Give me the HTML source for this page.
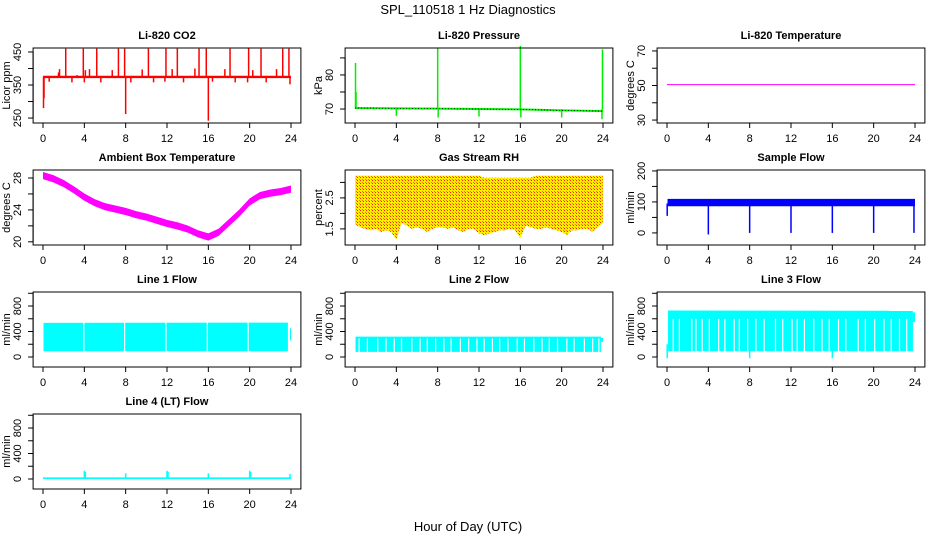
<!DOCTYPE html>
<html><head><meta charset="utf-8"><style>
body{margin:0;background:#fff;}
svg{display:block;font-family:"Liberation Sans",Arial,sans-serif;}
</style></head><body>
<svg id="chart" width="936" height="540" viewBox="0 0 936 540">
<rect width="936" height="540" fill="#fff"/>
<defs>
<pattern id="rhpat" width="3" height="3" patternUnits="userSpaceOnUse">
<rect width="3" height="3" fill="#ffee00"/><rect width="1" height="1" fill="#ff2000"/><rect x="2" y="2" width="1" height="1" fill="#ff7000"/>
</pattern>
</defs>
<text x="468" y="14" text-anchor="middle" font-size="13">SPL_110518  1 Hz Diagnostics</text>
<text x="468" y="531" text-anchor="middle" font-size="13">Hour of Day (UTC)</text>
<g id="panels"></g>
</svg>
<script>
// ---- data ----
const xTicks = [0,4,8,12,16,20,24];
const co2BandHours = [0,24];
const co2BandLow = [371,371];
const co2BandHigh = [378,378];
const co2SpikeHours = [0.05,0.1,0.6,1.5,1.6,2.2,2.8,3.3,3.9,4.0,4.1,4.5,5.2,5.6,6.7,7.3,7.9,8.0,8.5,9.6,10.2,10.7,11.8,11.9,12.5,13.0,13.6,14.7,15.1,15.8,16.0,16.4,17.6,18.1,18.6,19.8,19.9,20.3,21.1,21.6,22.6,23.2,23.8,23.9];
const co2SpikeValues = [280,310,360,388,398,460,358,380,460,358,395,398,460,358,395,460,460,262,358,397,460,358,360,460,398,460,358,400,460,460,242,360,398,460,358,358,462,395,460,358,398,460,460,352];
const presHours = [0,4,8,12,16,20,24];
const presBase = [70.3,70.2,70.1,70.0,69.9,69.6,69.4];
const presSpikeHours = [0.05,0.1,4.0,8.0,8.05,12.0,16.0,16.05,20.0,23.9,23.95];
const presSpikeValues = [83.5,75,68,88,67.5,67.8,88.5,67.5,67.5,67,87.5];
const tempHours = [0,24];
const tempValues = [50.5,50.5];
const ambHours = [0,1,2,3,4,5,6,7,8,9,10,11,12,13,14,15,16,17,18,19,20,21,22,23,24];
const ambValues = [28.3,27.9,27.3,26.5,25.6,24.9,24.4,24.1,23.8,23.4,23.1,22.7,22.3,22.0,21.6,21.0,20.6,21.2,22.4,23.6,25.0,25.8,26.1,26.3,26.6];
const rhHours = [0,0.5,1,1.5,2,2.5,3,3.5,4,4.5,5,5.5,6,6.5,7,7.5,8,8.5,9,9.5,10,10.5,11,11.5,12,12.5,13,13.5,14,14.5,15,15.5,16,16.5,17,17.5,18,18.5,19,19.5,20,20.5,21,21.5,22,22.5,23,23.5,24];
const rhLow = [1.65,1.55,1.5,1.45,1.5,1.4,1.45,1.4,1.15,1.7,1.6,1.5,1.55,1.5,1.4,1.5,1.55,1.55,1.5,1.55,1.45,1.4,1.5,1.5,1.35,1.3,1.35,1.4,1.45,1.45,1.5,1.45,1.2,1.6,1.55,1.5,1.5,1.55,1.5,1.45,1.4,1.3,1.45,1.45,1.5,1.5,1.4,1.55,1.7];
const rhUpperHours = [0,12,12.5,17,17.5,24];
const rhUpper = [3.22,3.22,3.15,3.15,3.22,3.22];
const sfBandHours = [0.05,24];
const sfLow = [86,86];
const sfHigh = [110,110];
const sfDipHours = [0.02,4,8,12,16,20,23.9];
const sfDipValues = [55,-5,0,0,0,0,0];
const l1Hours = [0.05,23.7];
const l1Low = [90,90];
const l1High = [535,540];
const l1Gaps = [3.95,7.9,11.9,15.9,19.85];
const l2Hours = [0.05,23.8];
const l2Low = [80,80];
const l2High = [320,320];
const l2Gaps = [0.4,1.2,2.2,3.0,3.8,4.5,5.5,6.3,7.0,7.8,8.6,9.3,10.2,11.0,11.8,12.5,13.3,14.0,14.8,15.7,16.4,17.3,18.1,18.8,19.6,20.5,21.2,22.2,23.0,23.6];
const l3Hours = [0.1,23.8];
const l3Low = [90,90];
const l3High = [730,725];
const l3Gaps = [0.6,1.2,2.4,2.8,3.4,4.1,5.0,5.6,6.5,7.0,7.8,8.6,9.4,10.5,11.2,12.1,12.6,13.3,14.2,15.0,15.7,16.6,17.3,18.5,19.2,20.1,21.0,21.7,22.5,23.2];
const l3DipHours = [0.02,8.0,16.0];
const l3DipValues = [-20,-20,-20];
const l4Hours = [0,24];
const l4Low = [0,0];
const l4High = [25,25];
const l4SpikeHours = [4,4.1,8,12,12.1,16,20,20.1,23.9];
const l4SpikeValues = [130,110,90,130,110,90,130,110,80];

// ---- helpers ----
const NS = "http://www.w3.org/2000/svg";
const root = document.getElementById('panels');
function mk(tag, attrs, parent){ const e=document.createElementNS(NS,tag); for(const k in attrs) e.setAttribute(k,attrs[k]); parent.appendChild(e); return e; }

function panel(col,row,title,ylab,ymin,ymax,yTicks,yLabels,name){
  const x0 = 43 + 312*col, w = 248;
  const left = x0 - 9.9, right = x0 + w + 9.9;
  const top = 48 + 122*row, bottom = top + 75;
  const g = mk('g',{},root);
  
  
  const sx = h => x0 + h*w/24;
  const sy = v => bottom - (v - ymin)/(ymax - ymin)*(bottom - top);
  const t = mk('text',{x:(left+right)/2,y:top-9,'text-anchor':'middle','font-size':11,'font-weight':'bold'},g);
  t.textContent = title;
  
  
  const plot = mk('g',{},g);
  
  
  const box = mk('rect',{x:left,y:top,width:right-left,height:bottom-top,fill:'none',stroke:'#000','stroke-width':1},g);
  
  
  const xa = mk('g',{},g);
  
  
  mk('line',{x1:sx(0),x2:sx(24),y1:bottom,y2:bottom,stroke:'#000'},xa);
  xTicks.forEach(h=>{
    mk('line',{x1:sx(h),x2:sx(h),y1:bottom,y2:bottom+5,stroke:'#000'},xa);
    const l = mk('text',{x:sx(h),y:bottom+19,'text-anchor':'middle','font-size':11},xa);
    l.textContent = h;
    
    
  });
  const ya = mk('g',{},g);
  
  
  mk('line',{x1:left,x2:left,y1:sy(yTicks[0]),y2:sy(yTicks[yTicks.length-1]),stroke:'#000'},ya);
  yTicks.forEach(v=>{
    mk('line',{x1:left-5,x2:left,y1:sy(v),y2:sy(v),stroke:'#000'},ya);
    if(yLabels.indexOf(v)>=0){
      const l = mk('text',{x:0,y:0,'text-anchor':'middle','font-size':11,transform:`translate(${left-12},${sy(v)}) rotate(-90)`},ya);
      l.textContent = v;
      
      
    }
  });
  const yl = mk('text',{x:0,y:0,'text-anchor':'middle','font-size':11,transform:`translate(${left-23},${(top+bottom)/2}) rotate(-90)`},g);
  yl.textContent = ylab;
  
  
  return {plot,sx,sy};
}
function band(p,hours,low,high,fill,name){
  let pts=[]; hours.forEach((h,i)=>pts.push(p.sx(h)+','+p.sy(high[i])));
  for(let i=hours.length-1;i>=0;i--) pts.push(p.sx(hours[i])+','+p.sy(low[i]));
  const e = mk('polygon',{points:pts.join(' '),fill:fill},p.plot);
  
  
  return e;
}
function spikes(p,hours,vals,base,color,wd,name){
  hours.forEach((h,i)=>{
    const e = mk('line',{x1:p.sx(h),x2:p.sx(h),y1:p.sy(base),y2:p.sy(vals[i]),stroke:color,'stroke-width':wd},p.plot);
    
    
  });
}
function gaps(p,hours,lo,hi,name){
  hours.forEach(h=>{
    const e = mk('line',{x1:p.sx(h),x2:p.sx(h),y1:p.sy(lo),y2:p.sy(hi),stroke:'#fff','stroke-width':1.2},p.plot);
    
    
  });
}
function line(p,hours,vals,color,wd,name,dash){
  const pts = hours.map((h,i)=>p.sx(h)+','+p.sy(vals[i])).join(' ');
  const e = mk('polyline',{points:pts,fill:'none',stroke:color,'stroke-width':wd},p.plot);
  if(dash) e.setAttribute('stroke-dasharray',dash);
  
  
}

// CO2
let p = panel(0,0,'Li-820 CO2','Licor ppm',235,462,[250,300,350,400,450],[250,350,450],'co2');
band(p,co2BandHours,co2BandLow,co2BandHigh,'#ff0000','co2-band');
spikes(p,co2SpikeHours,co2SpikeValues,375,'#ff0000',1.5,'co2-spike');
// Pressure
p = panel(1,0,'Li-820 Pressure','kPa',65.9,87.9,[70,75,80,85],[70,80],'pressure');
line(p,presHours,presBase,'#00ee00',2,'pressure-line');
spikes(p,presSpikeHours,presSpikeValues,70,'#00ee00',1.5,'pressure-spike');
line(p,presHours,presBase,'#000',0.7,'pressure-dots','1 2');
// Temperature
p = panel(2,0,'Li-820 Temperature','degrees C',28.3,71.7,[30,40,50,60,70],[30,50,70],'li820-temp');
line(p,tempHours,tempValues,'#ff00ff',1,'li820-temp-line');
// Ambient
p = panel(0,1,'Ambient Box Temperature','degrees C',19.6,29,[20,22,24,26,28],[20,24,28],'ambient-temp');
band(p,ambHours,ambValues.map(v=>v-0.45),ambValues.map(v=>v+0.45),'#ff00ff','ambient-temp-band');
// RH
p = panel(1,1,'Gas Stream RH','percent',0.98,3.4,[1.5,2,2.5,3],[1.5,2.5],'rh');
{
  let pts=[]; rhUpperHours.forEach((h,i)=>pts.push(p.sx(h)+','+p.sy(rhUpper[i])));
  for(let i=rhHours.length-1;i>=0;i--) pts.push(p.sx(rhHours[i])+','+p.sy(rhLow[i]));
  const e = mk('polygon',{points:pts.join(' '),fill:'url(#rhpat)'},p.plot);
  
  
}
// Sample flow
p = panel(2,1,'Sample Flow','ml/min',-39,203,[0,50,100,150,200],[0,100,200],'sample-flow');
band(p,sfBandHours,sfLow,sfHigh,'#0000ff','sample-flow-band');
spikes(p,sfDipHours,sfDipValues,95,'#0000ff',1.5,'sample-flow-dip');
// Line 1
p = panel(0,2,'Line 1 Flow','ml/min',-157,1020,[0,200,400,600,800,1000],[0,400,800],'line1');
band(p,l1Hours,l1Low,l1High,'#00ffff','line1-band');
band(p,[23.9,24],[260,260],[450,450],'#00ffff','line1-end');
gaps(p,l1Gaps,90,540,'line1-gap');
// Line 2
p = panel(1,2,'Line 2 Flow','ml/min',-157,1020,[0,200,400,600,800,1000],[0,400,800],'line2');
band(p,l2Hours,l2Low,l2High,'#00ffff','line2-band');
band(p,[23.8,24],[240,240],[300,300],'#00ffff','line2-end');
gaps(p,l2Gaps,80,290,'line2-gap');
// Line 3
p = panel(2,2,'Line 3 Flow','ml/min',-157,1020,[0,200,400,600,800,1000],[0,400,800],'line3');
band(p,l3Hours,l3Low,l3High,'#00ffff','line3-band');
band(p,[23.8,24],[550,550],[700,700],'#00ffff','line3-end');
gaps(p,l3Gaps,90,600,'line3-gap');
spikes(p,l3DipHours,l3DipValues,200,'#00ffff',1.5,'line3-dip');
// Line 4
p = panel(0,3,'Line 4 (LT) Flow','ml/min',-157,1020,[0,200,400,600,800,1000],[0,400,800],'line4');
band(p,l4Hours,l4Low,l4High,'#00ffff','line4-band');
spikes(p,l4SpikeHours,l4SpikeValues,10,'#00ffff',1.5,'line4-spike');
</script>
</body></html>
